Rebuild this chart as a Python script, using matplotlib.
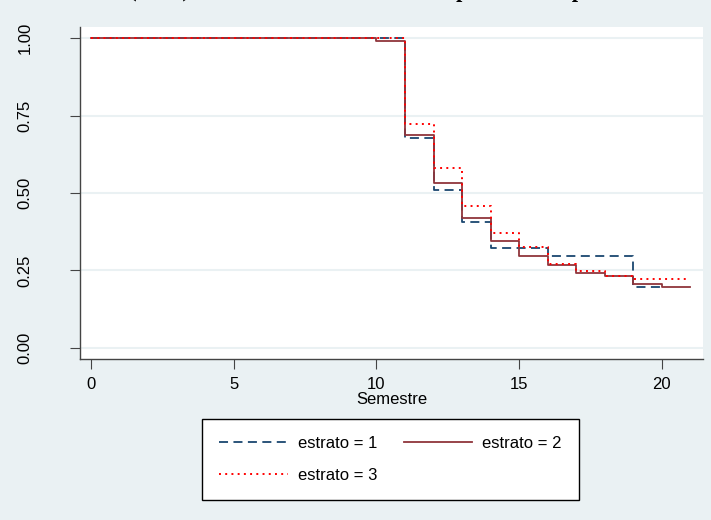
import matplotlib.pyplot as plt

# Kaplan-Meier estimates per stratum
t1 = [0, 11, 12, 13, 14, 16, 19, 20]
s1 = [1.0, 0.679, 0.510, 0.408, 0.321, 0.297, 0.198, 0.198]

t2 = [0, 10, 11, 12, 13, 14, 15, 16, 17, 18, 19, 20, 21]
s2 = [1.0, 0.99, 0.688, 0.533, 0.418, 0.345, 0.298, 0.268, 0.243, 0.232, 0.208, 0.197, 0.197]

t3 = [0, 11, 12, 13, 14, 15, 16, 17, 18, 19, 21]
s3 = [1.0, 0.723, 0.582, 0.457, 0.370, 0.327, 0.271, 0.249, 0.231, 0.221, 0.221]

labels = ["estrato = 1", "estrato = 2", "estrato = 3"]
xticks = [0, 5, 10, 15, 20]
yticks = [0, 0.25, 0.5, 0.75, 1.0]

plt.rcParams['font.family'] = ['Liberation Sans', 'DejaVu Sans']
bg = '#eaf1f3'
W, H = 711, 520
fig = plt.figure(figsize=(W / 100, H / 100), dpi=100, facecolor=bg)
ax = fig.add_axes([80 / W, (H - 359) / H, 623 / W, 332 / H])
ax.set_facecolor('white')

l1, = ax.step(t1, s1, where='post', color='#1a476f', lw=1.3, ls=(0, (5, 3)))
l2, = ax.step(t2, s2, where='post', color='#90353b', lw=1.3)
l3, = ax.step(t3, s3, where='post', color='#ff0000', lw=1.4, ls=(0, (1, 2.2)))

ax.set_xlim(-0.385, 21.44)
ax.set_ylim(-0.0355, 1.0355)
ax.set_xticks(xticks)
ax.set_yticks(yticks)
ax.set_yticklabels([f"{v:.2f}" for v in yticks], rotation=90, va='center')
ax.grid(axis='y', color=bg, lw=1.5)
ax.set_axisbelow(True)
for side in ('top', 'right'):
    ax.spines[side].set_visible(False)
for side in ('left', 'bottom'):
    ax.spines[side].set_color('#444444')
    ax.spines[side].set_linewidth(1.0)
ax.tick_params(axis='y', length=7, pad=27, labelsize=12, color='#444444')
ax.tick_params(axis='x', length=7, pad=6, labelsize=12, color='#444444')
ax.set_xlabel("Semestre", fontsize=12, labelpad=0)

# row-wise order like the reference: 1, 2 on top row, 3 below
leg = fig.legend([l1, l3, l2], [labels[0], labels[2], labels[1]], ncol=2, loc='center',
                 bbox_to_anchor=(390.5 / W, 1 - 459.5 / H), fontsize=12,
                 handlelength=4.1, columnspacing=1.6, handletextpad=0.6,
                 borderpad=1.05, labelspacing=1.0, fancybox=False,
                 frameon=True, edgecolor='black', facecolor='white', framealpha=1)
leg.get_frame().set_linewidth(1.0)

# title mostly clipped at the top edge in the reference
fig.text(17 / W, 1 + 2.5 / H, "Estimación (K-M) de todas las funciones de supervivencia por estrato",
         family='Liberation Serif', weight='bold', fontsize=16, va='baseline', ha='left')

fig.savefig('out.png', dpi=100, facecolor=bg)
